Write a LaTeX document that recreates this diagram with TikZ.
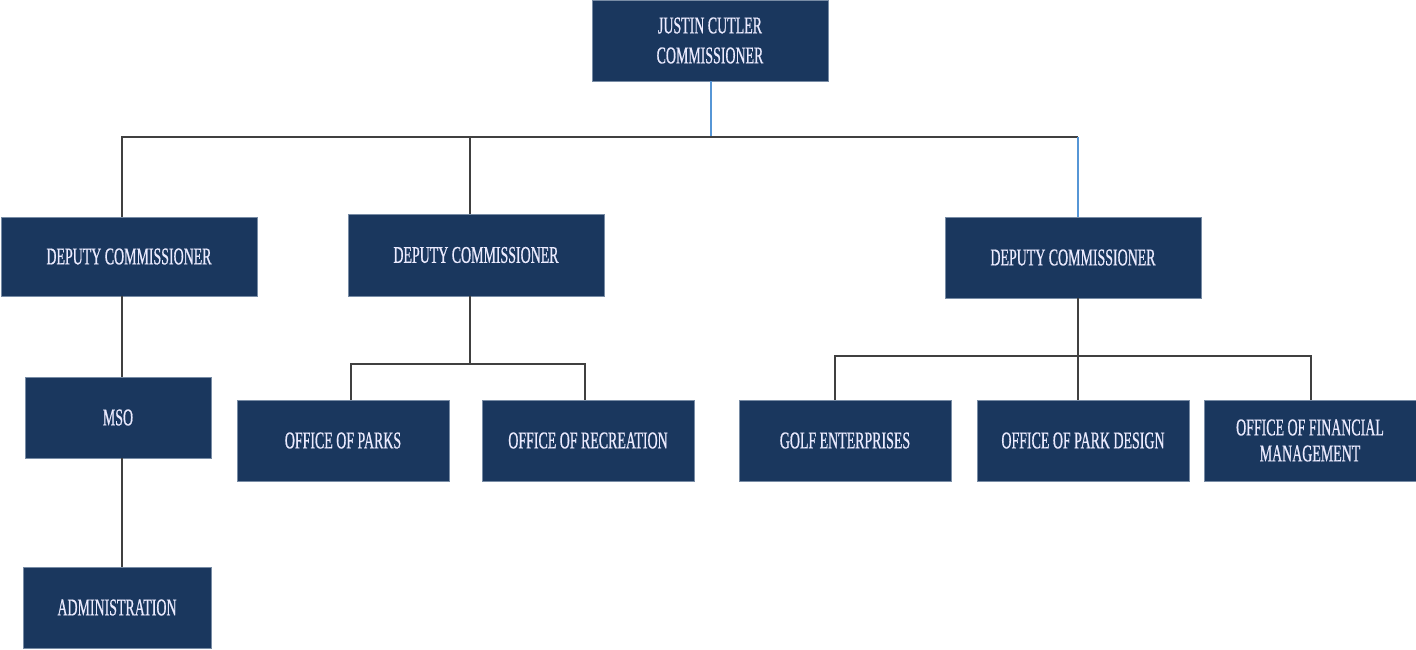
\documentclass[tikz,border=0pt]{standalone}
\usepackage{fontspec}
\setmainfont{Liberation Serif}[FakeStretch=0.58,FakeBold=0.6]
\definecolor{boxfill}{RGB}{26,55,94}
\definecolor{boxedge}{RGB}{120,140,165}
\definecolor{linkgray}{RGB}{64,64,64}
\definecolor{linkblue}{RGB}{86,150,214}
\begin{document}
\begin{tikzpicture}[x=1pt,y=-1pt,
  unit/.style={fill=boxfill,draw=boxedge,line width=0.6pt,text=white!92!blue,
    font=\fontsize{24}{24}\selectfont,align=center,inner sep=0pt},
  link/.style={draw=linkgray,line width=1.6pt},
  bluelink/.style={draw=linkblue,line width=1.3pt}]
\useasboundingbox (0,0) rectangle (1416,650);
% boxes: corners in pixel grid
\newcommand{\unitbox}[6]{%
  \node[unit,minimum width=#3-#1,minimum height=#4-#2] (#5) at ({(#1+#3)/2},{(#2+#4)/2}) {#6};}
\unitbox{592}{0}{828}{81}{top}{JUSTIN CUTLER\\[6pt]COMMISSIONER}
\unitbox{1}{217}{257}{296}{depA}{DEPUTY COMMISSIONER}
\unitbox{348}{214}{604}{296}{depB}{DEPUTY COMMISSIONER}
\unitbox{945}{217}{1201}{298}{depC}{DEPUTY COMMISSIONER}
\unitbox{25}{377}{211}{458}{mso}{MSO}
\unitbox{23}{567}{211}{648}{admin}{ADMINISTRATION}
\unitbox{237}{400}{449}{481}{parks}{OFFICE OF PARKS}
\unitbox{482}{400}{694}{481}{rec}{OFFICE OF RECREATION}
\unitbox{739}{400}{951}{481}{golf}{GOLF ENTERPRISES}
\unitbox{977}{400}{1189}{481}{design}{OFFICE OF PARK DESIGN}
\unitbox{1204}{400}{1416}{481}{fin}{OFFICE OF FINANCIAL\\[2pt]MANAGEMENT}
% junction points on the buses
\coordinate (busTop) at (711,137);
\coordinate (busB) at (470,364);
\coordinate (busC) at (1078,356);
% top level
\draw[bluelink] (top.south -| busTop) -- (busTop);
\draw[link] (depA.north -| 122,0) |- (busTop);
\draw[link] (depB.north -| busB) -- (busB |- busTop);
\draw[link] (busTop) -- (1078,137);
\draw[bluelink] (depC.north -| busC) -- (busC |- busTop);
% first branch
\draw[link] (depA.south -| 122,0) -- (mso.north -| 122,0);
\draw[link] (mso.south -| 122,0) -- (admin.north -| 122,0);
% second branch
\draw[link] (depB.south -| busB) -- (busB);
\draw[link] (parks.north -| 351,0) |- (busB) -| (rec.north -| 585,0);
% third branch
\draw[link] (depC.south -| busC) -- (busC);
\draw[link] (golf.north -| 835,0) |- (busC) -| (fin.north -| 1311,0);
\draw[link] (busC) -- (design.north -| busC);
\end{tikzpicture}
\end{document}
